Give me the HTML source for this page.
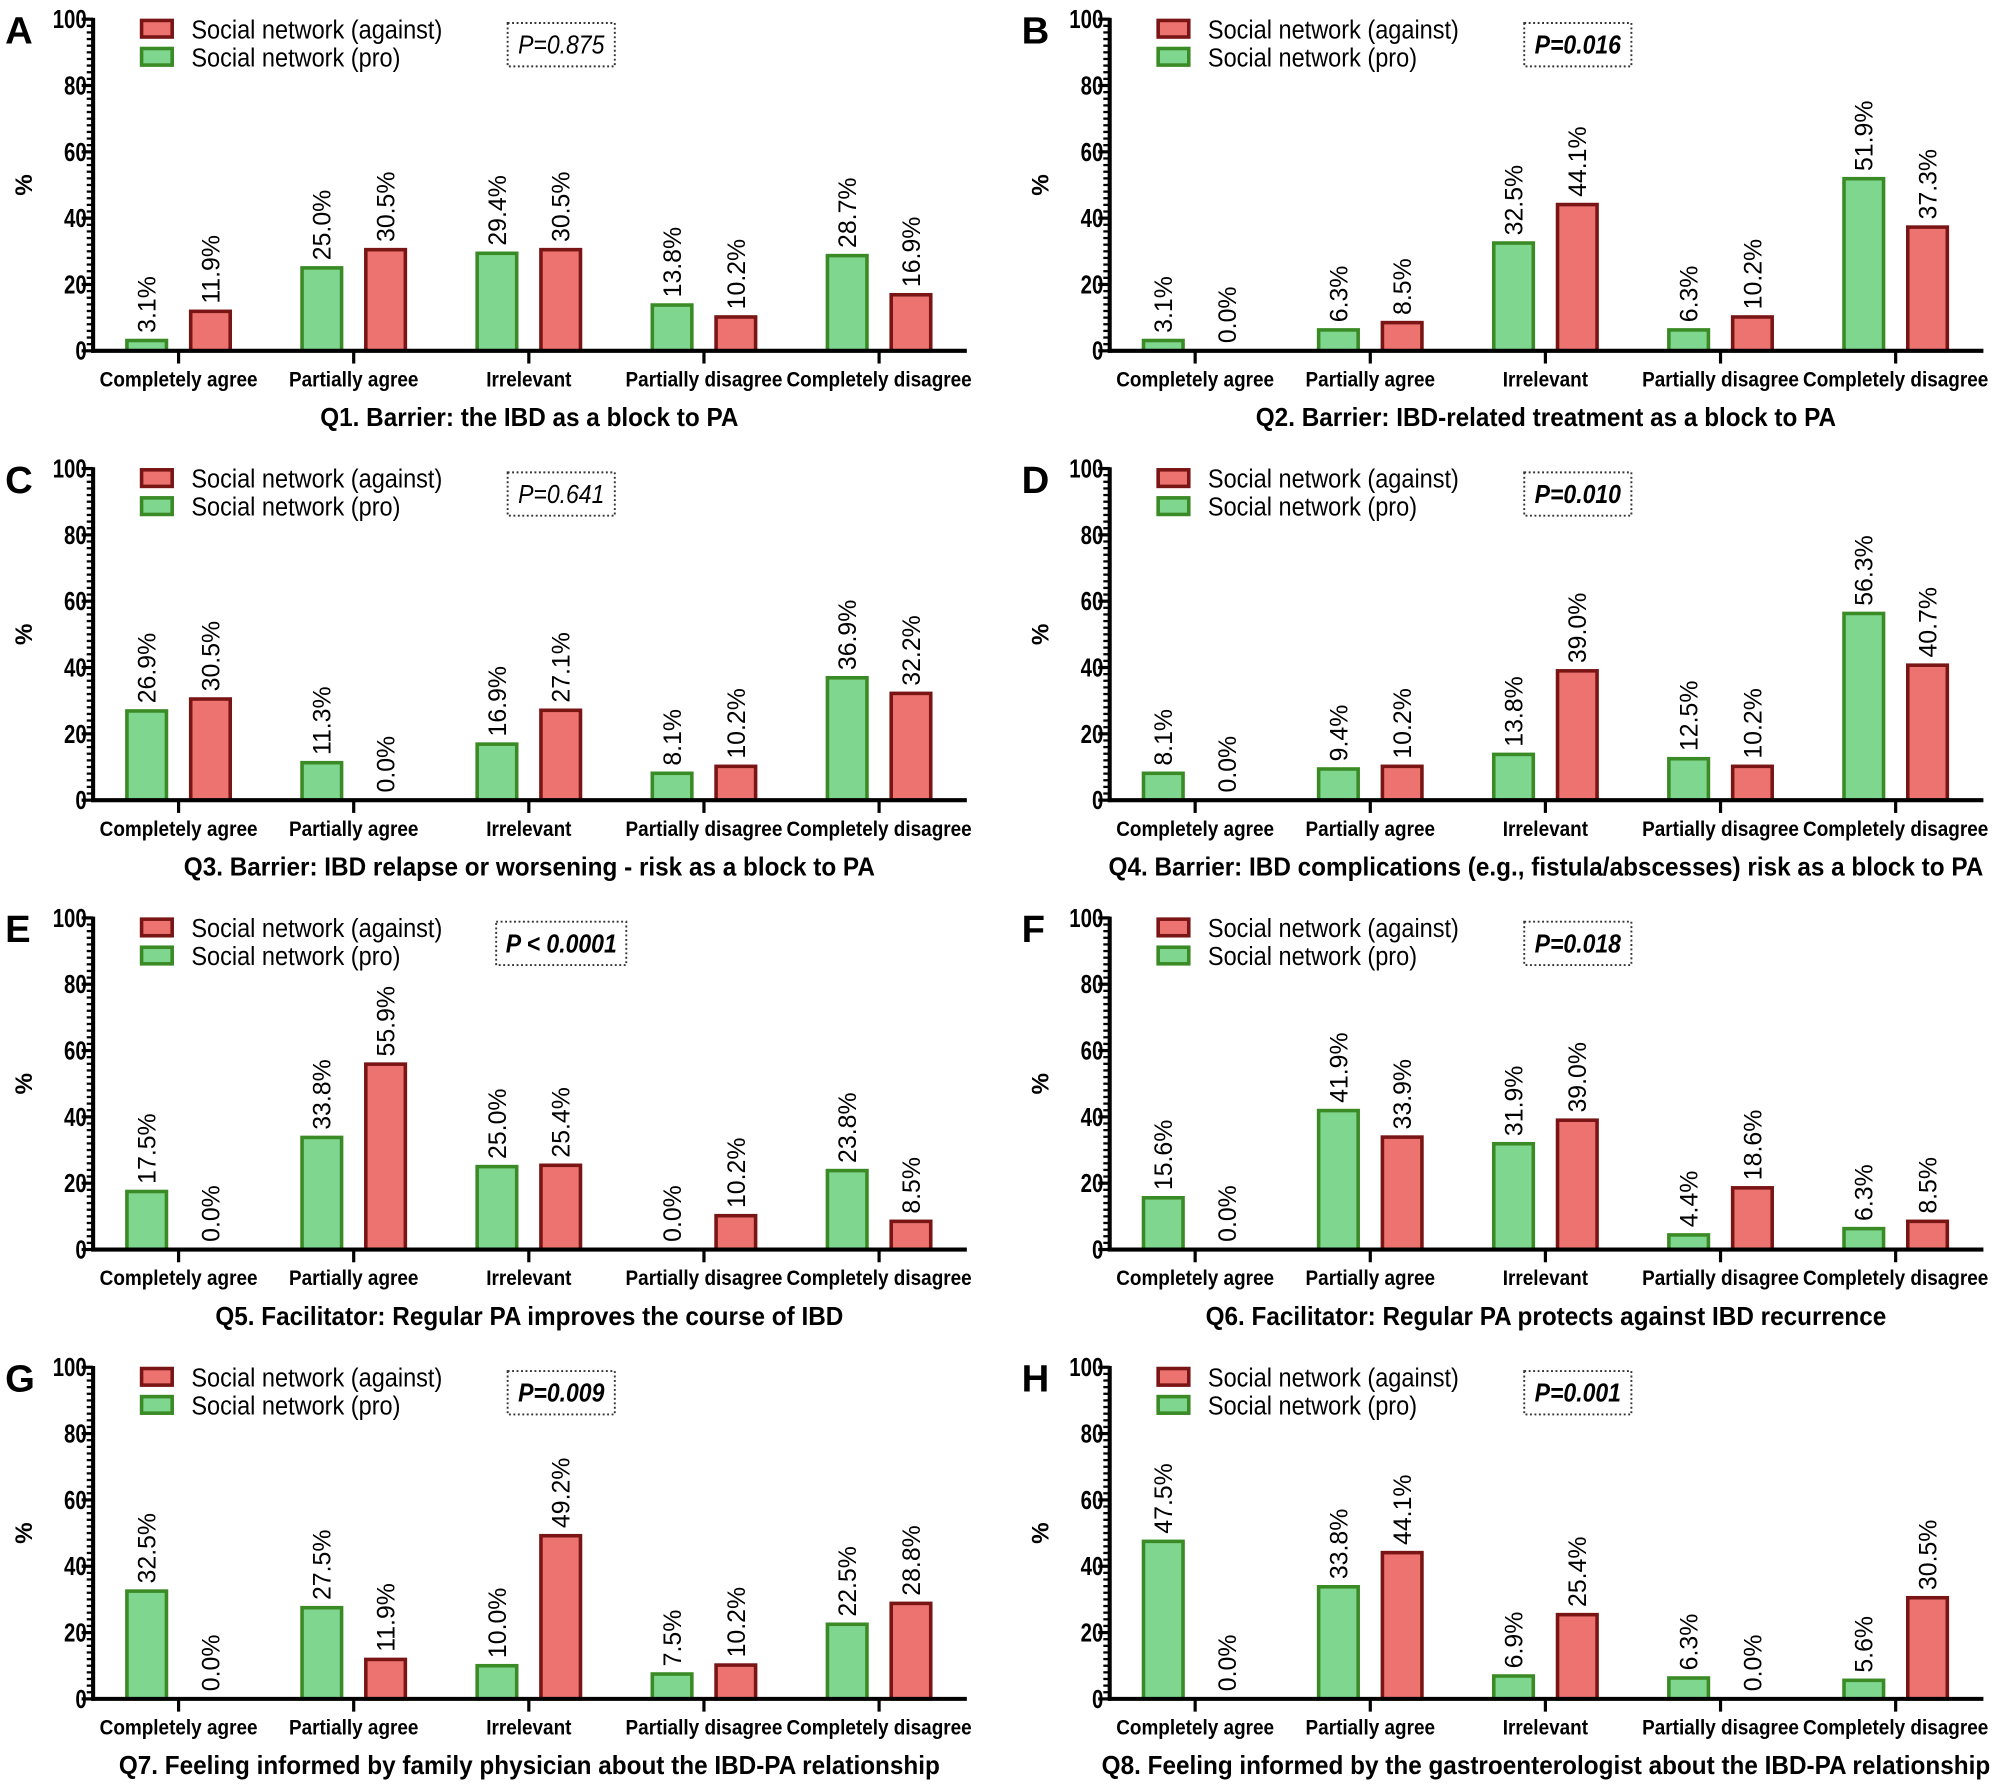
<!DOCTYPE html>
<html><head><meta charset="utf-8"><style>
html,body{margin:0;padding:0;background:#fff;}
svg{display:block;font-family:"Liberation Sans",sans-serif;}
</style></head><body>
<svg id="fig" xmlns="http://www.w3.org/2000/svg" width="2000" height="1784" viewBox="0 0 1568 1398.6"></svg>
<script>
const categories = ["Completely agree","Partially agree","Irrelevant","Partially disagree","Completely disagree"];
const yTicks = [0,20,40,60,80,100];
const panelLetters = ["A","B","C","D","E","F","G","H"];
const titles = [
"Q1. Barrier: the IBD as a block to PA",
"Q2. Barrier: IBD-related treatment as a block to PA",
"Q3. Barrier: IBD relapse or worsening - risk as a block to PA",
"Q4. Barrier: IBD complications (e.g., fistula/abscesses) risk as a block to PA",
"Q5. Facilitator: Regular PA improves the course of IBD",
"Q6. Facilitator: Regular PA protects against IBD recurrence",
"Q7. Feeling informed by family physician about the IBD-PA relationship",
"Q8. Feeling informed by the gastroenterologist about the IBD-PA relationship"];
const proValues = [
[3.1,25.0,29.4,13.8,28.7],
[3.1,6.3,32.5,6.3,51.9],
[26.9,11.3,16.9,8.1,36.9],
[8.1,9.4,13.8,12.5,56.3],
[17.5,33.8,25.0,0.0,23.8],
[15.6,41.9,31.9,4.4,6.3],
[32.5,27.5,10.0,7.5,22.5],
[47.5,33.8,6.9,6.3,5.6]];
const againstValues = [
[11.9,30.5,30.5,10.2,16.9],
[0.0,8.5,44.1,10.2,37.3],
[30.5,0.0,27.1,10.2,32.2],
[0.0,10.2,39.0,10.2,40.7],
[0.0,55.9,25.4,10.2,8.5],
[0.0,33.9,39.0,18.6,8.5],
[0.0,11.9,49.2,10.2,28.8],
[0.0,44.1,25.4,0.0,30.5]];
const pLabels = ["P=0.875","P=0.016","P=0.641","P=0.010","P < 0.0001","P=0.018","P=0.009","P=0.001"];
const pBold = [false,true,false,true,true,true,true,true];

const NS="http://www.w3.org/2000/svg";
const svg=document.getElementById('fig');
function mk(tag,attrs,parent,text){const e=document.createElementNS(NS,tag);for(const k in attrs)e.setAttribute(k,attrs[k]);if(text!==undefined)e.textContent=text;(parent||svg).appendChild(e);return e;}

for(let p=0;p<8;p++){
  const col=p%2,row=Math.floor(p/2);
  const ox=col*797, oy=row*352.3;
  const ax=73+ox, y0=275+oy, y100=15+oy;
  const xEnd=758+ox;
  const yS=v=>y0-(v/100)*(y0-y100);
  const xC=i=>140+ox+i*137.3;
  const g=mk('g',{});
  
  
  const L=mk('text',{x:4+ox,y:34+oy,'font-size':30,'font-weight':'bold'},g,panelLetters[p]);
  
  for(let v=0;v<=100;v+=2){
    const t=mk('line',{x1:ax-5,x2:ax,y1:yS(v),y2:yS(v),stroke:'#000','stroke-width':1.8},g);
    
  }
  yTicks.forEach(v=>{
    const t=mk('line',{x1:ax-9,x2:ax,y1:yS(v),y2:yS(v),stroke:'#000','stroke-width':2.5},g);
    
    const tl=mk('text',{transform:`translate(${ax-5},${yS(v)+7}) scale(0.8,1)`,'text-anchor':'end','font-size':20,'font-weight':'bold'},g,String(v));
    
  });
  const ya=mk('line',{x1:ax,x2:ax,y1:y100-1,y2:y0+1.5,stroke:'#000','stroke-width':3.2},g);
  
  const yt=mk('text',{transform:`translate(${25+ox},${145+oy}) rotate(-90)`,'text-anchor':'middle','font-size':19,'font-weight':'bold'},g,'%');
  
  categories.forEach((c,i)=>{
    const cx=xC(i);
    const tk=mk('line',{x1:cx,x2:cx,y1:y0,y2:y0+10,stroke:'#000','stroke-width':2.5},g);
    
    const cl=mk('text',{transform:`translate(${cx},${y0+28}) scale(0.9,1)`,'text-anchor':'middle','font-size':16.5,'font-weight':'bold'},g,c);
    
    [[proValues[p][i],-25,'#7fd68f','#3a8a25','bar-pro'],[againstValues[p][i],25,'#ec7370','#7a1515','bar-against']].forEach(([v,dx,f,s,nm])=>{
      const bx=cx+dx;
      if(v>0){
        const r=mk('rect',{x:bx-15.5,y:yS(v),width:31,height:y0-yS(v),fill:f,stroke:s,'stroke-width':2.8},g);
        
      }
      const vl=mk('text',{transform:`translate(${bx+7},${yS(v)-6}) rotate(-90)`,'font-size':19.5},g,v.toFixed(1)+'%');
      
    });
  });
  const xa=mk('line',{x1:ax-1.5,x2:xEnd,y1:y0,y2:y0,stroke:'#000','stroke-width':3.2},g);
  
  const tt=mk('text',{transform:`translate(${415+ox},${y0+59}) scale(0.93,1)`,'text-anchor':'middle','font-size':20.5,'font-weight':'bold'},g,titles[p]);
  
  const lg=mk('g',{},g);
  
  [['Social network (against)','#ec7370','#7a1515',16],['Social network (pro)','#7fd68f','#3a8a25',38]].forEach(([t,f,s,ly])=>{
    const sw=mk('rect',{x:111+ox,y:ly+oy,width:24,height:13,fill:f,stroke:s,'stroke-width':2.8},lg);
    
    const lt=mk('text',{transform:`translate(${150+ox},${ly+14+oy}) scale(0.9,1)`,'font-size':20.5},lg,t);
    
  });
  const bw = pLabels[p].length>8?102:84;
  const bx0 = (p===4?389:398)+ox;
  const pb=mk('rect',{x:bx0,y:18+oy,width:bw,height:34,fill:'none',stroke:'#333','stroke-width':1.5,'stroke-dasharray':'1.5,2'},g);
  
  const pt=mk('text',{transform:`translate(${bx0+bw/2},${42+oy}) scale(0.88,1)`,'text-anchor':'middle','font-size':20.5,'font-style':'italic','font-weight':pBold[p]?'bold':'normal'},g,pLabels[p]);
  
}
</script>
</body></html>
